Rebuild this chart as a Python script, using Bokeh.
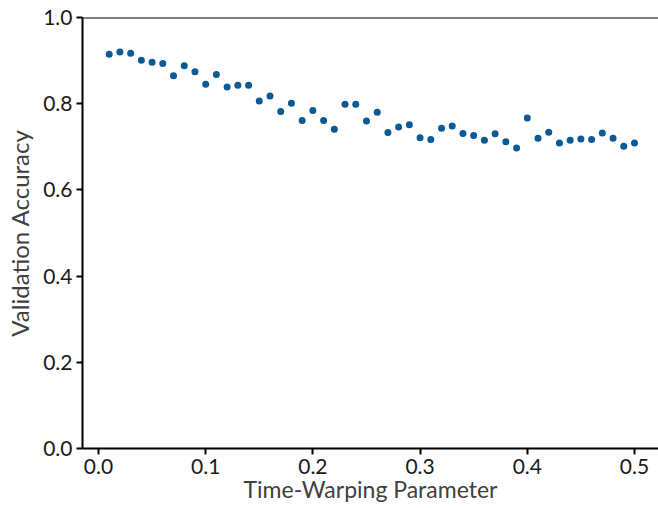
from bokeh.plotting import figure
from bokeh.models import Range1d, FixedTicker, Span, PrintfTickFormatter
from bokeh.embed import file_html
from bokeh.resources import INLINE

time_warping = [0.01, 0.02, 0.03, 0.04, 0.05, 0.06, 0.07, 0.08, 0.09, 0.10,
                0.11, 0.12, 0.13, 0.14, 0.15, 0.16, 0.17, 0.18, 0.19, 0.20,
                0.21, 0.22, 0.23, 0.24, 0.25, 0.26, 0.27, 0.28, 0.29, 0.30,
                0.31, 0.32, 0.33, 0.34, 0.35, 0.36, 0.37, 0.38, 0.39, 0.40,
                0.41, 0.42, 0.43, 0.44, 0.45, 0.46, 0.47, 0.48, 0.49, 0.50]
val_accuracy = [0.915, 0.920, 0.917, 0.901, 0.896, 0.893, 0.865, 0.888, 0.874, 0.845,
                0.868, 0.839, 0.843, 0.843, 0.806, 0.818, 0.782, 0.801, 0.761, 0.784,
                0.761, 0.741, 0.799, 0.799, 0.760, 0.780, 0.733, 0.746, 0.751, 0.721,
                0.717, 0.743, 0.748, 0.731, 0.726, 0.715, 0.730, 0.712, 0.697, 0.767,
                0.720, 0.734, 0.709, 0.715, 0.718, 0.717, 0.732, 0.720, 0.701, 0.709]
x_ticks = [0.0, 0.1, 0.2, 0.3, 0.4, 0.5]
y_ticks = [0.0, 0.2, 0.4, 0.6, 0.8, 1.0]
x_label = "Time-Warping Parameter"
y_label = "Validation Accuracy"

FONT = "Lato"

p = figure(width=658, height=508, output_backend="svg", toolbar_location=None,
           x_range=Range1d(-0.0149, 0.5224), y_range=Range1d(0.0, 1.0),
           min_border_left=82, min_border_right=0, min_border_top=17,
           min_border_bottom=60)
p.outline_line_color = None
p.grid.visible = False
p.background_fill_color = "white"
p.border_fill_color = "white"

p.scatter(time_warping, val_accuracy, size=7, color="#0b5a95", line_color=None)

top = Span(location=1.0, dimension="width", line_color="black", line_width=2)
p.add_layout(top)

for ax, ticks in ((p.xaxis[0], x_ticks), (p.yaxis[0], y_ticks)):
    ax.ticker = FixedTicker(ticks=ticks)
    ax.formatter = PrintfTickFormatter(format="%.1f")
    ax.axis_line_width = 2
    ax.axis_line_color = "black"
    ax.major_tick_line_width = 2
    ax.major_tick_line_color = "black"
    ax.major_tick_out = 6
    ax.major_tick_in = 0
    ax.minor_tick_line_color = None
    ax.major_label_text_font = FONT
    ax.major_label_text_font_size = "21px"
    ax.major_label_text_color = "#1a1a1a"
    ax.axis_label_text_font = FONT
    ax.axis_label_text_font_style = "normal"
    ax.axis_label_text_color = "#404040"
p.xaxis.major_label_standoff = 4
p.yaxis.major_label_standoff = 4

p.yaxis.axis_label = y_label
p.yaxis.axis_label_text_font_size = "24px"
p.yaxis.axis_label_standoff = 6

p.xaxis.axis_label = x_label
p.xaxis.axis_label_text_font_size = "23px"
p.xaxis.axis_label_standoff = -2

open("out.html", "w").write(file_html(p, INLINE))
